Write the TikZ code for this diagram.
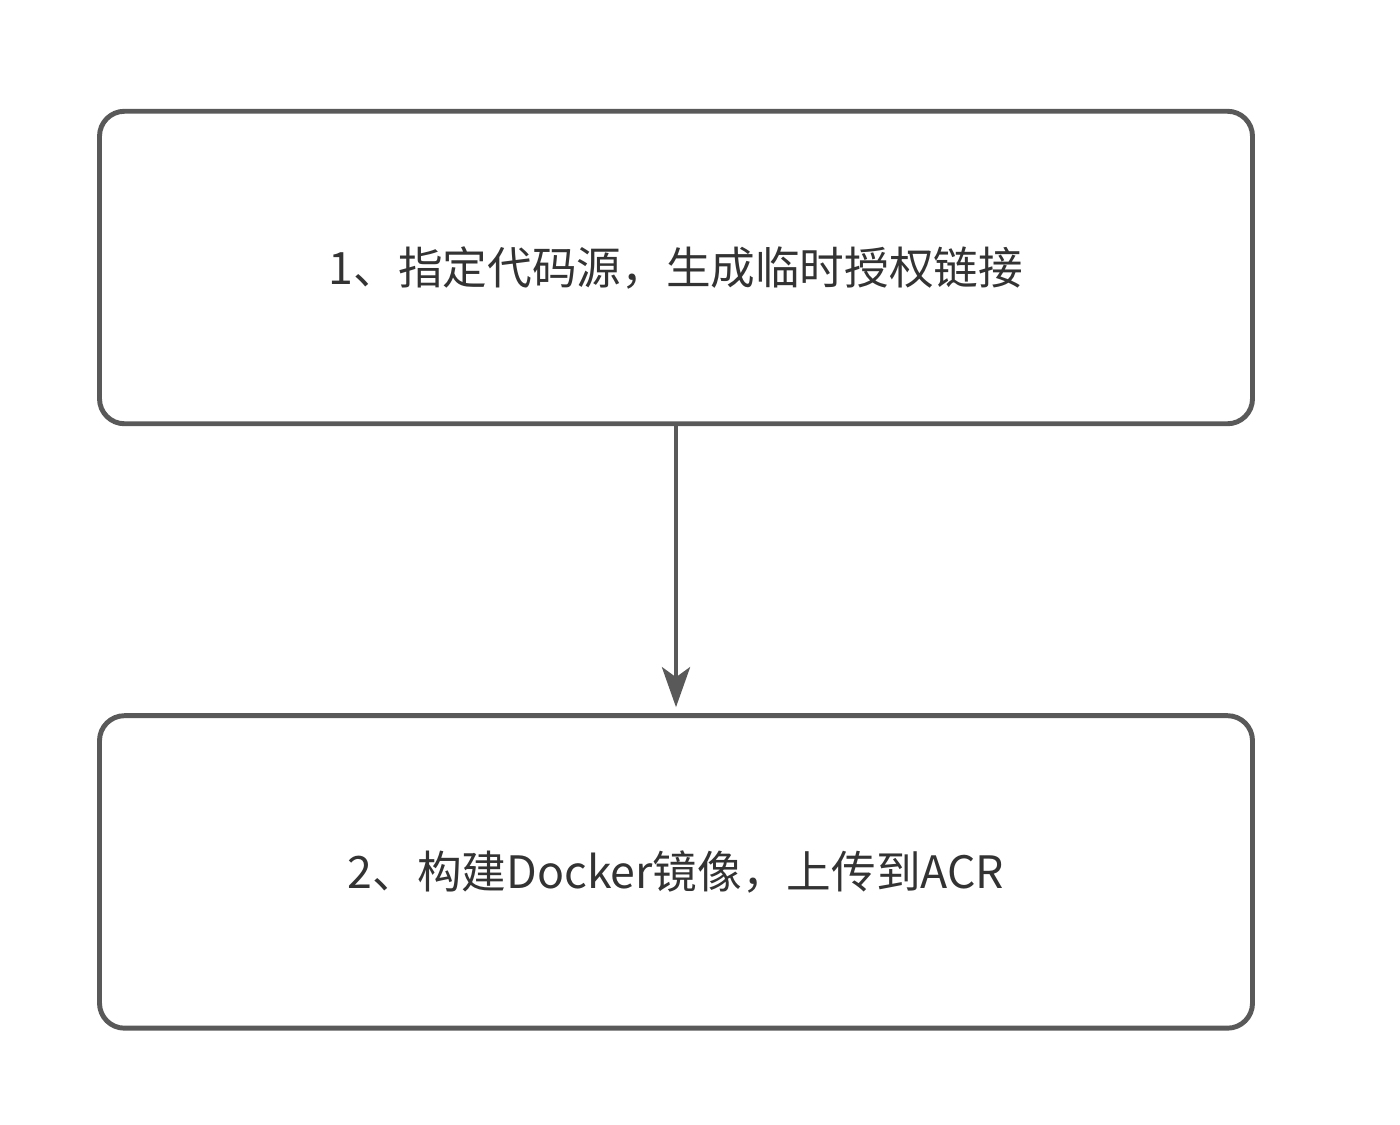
\documentclass[tikz,border=0pt]{standalone}
\usepackage{fontspec}
\newfontfamily\cjk{Noto Sans CJK SC}
\usetikzlibrary{arrows.meta,positioning}
\definecolor{FrameGray}{RGB}{89,89,89}
\definecolor{TextGray}{RGB}{51,51,51}
\tikzset{
  stepbox/.style={draw=FrameGray,line width=2.8pt,rounded corners=0.5cm,fill=white,
    minimum width=23.06cm,minimum height=6.25cm,align=center,
    font=\cjk\fontsize{25.4}{30}\selectfont,text=TextGray},
  arrow/.style={-{Stealth[length=0.8cm,width=0.56cm,inset=0.2cm]},line width=2.8pt,FrameGray}
}
\begin{document}
\begin{tikzpicture}
  \useasboundingbox (0,0) rectangle (28,-22.48);

  \node[stepbox] (link) at (13.52,-5.35) {1、指定代码源，生成临时授权链接};
  \node[stepbox,below=5.74cm of link] (build) {2、构建Docker镜像，上传到ACR};

  \draw[arrow,shorten >=0.12cm] (link) -- (build);
\end{tikzpicture}
\end{document}
